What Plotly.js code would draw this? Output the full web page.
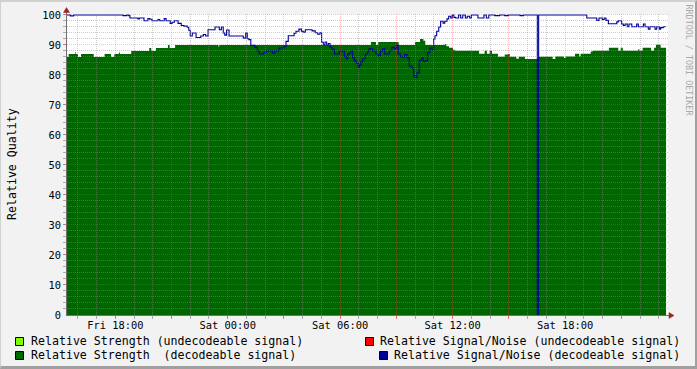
<!DOCTYPE html>
<html><head><meta charset="utf-8">
<script src="https://cdn.plot.ly/plotly-3.0.1.min.js"></script>
<style>
html,body{margin:0;padding:0;background:#f2f2f2;}
#wrap{position:relative;width:697px;height:369px;}
#chart{width:697px;height:369px;}
#frame{position:absolute;left:0;top:0;width:697px;height:369px;box-sizing:border-box;border-top:2px solid #d0d0d0;border-left:1px solid #d0d0d0;border-right:2px solid #a0a0a0;border-bottom:3px solid #a0a0a0;pointer-events:none;}
</style></head><body>
<div id="wrap"><div id="chart"></div><div id="frame"></div></div>
<script>
// time in hours since Fri 00:00
const strengthT = [15.41,15.51,15.87,15.90,16.01,16.17,16.85,17.43,17.77,17.95,
  18.20,18.25,18.85,19.81,19.92,20.17,20.81,20.90,21.19,23.50,
  23.55,31.64,31.91,32.03,33.12,33.99,34.26,34.44,34.54,35.58,
  35.66,35.81,36.02,36.11,37.41,37.71,37.83,37.98,38.10,38.42,
  38.78,38.96,39.05,39.40,39.53,39.86,40.59,41.34,41.48,41.94,
  42.03,42.53,42.76,42.83,43.37,43.47,44.34,44.84,44.97,45.08,
  45.91,45.96,46.14,46.59,46.75,46.85,47.10,47.39];
const strengthV = [86,87,87.7,87,86,87,86,87,86,87,
  87.5,87,88,89,88,89,90,89,90,89.5,
  90,91,90,91,90,91,92,91.4,90,90.3,
  89.6,89.1,88.4,88.1,87.1,88.1,87.1,88.1,87.1,86.1,
  86.8,87,86.1,85.4,86.1,85.3,86.1,85.3,86.2,85.7,
  86.2,87.1,86.2,87.1,87.8,88.1,89.1,88.1,89.1,88.1,
  88.7,88.1,89.1,88.1,89.1,90.1,89.1,89.1];

const snrT = [15.41,15.60,15.78,
  18.41,18.62,18.72,18.78,
  19.21,19.28,19.53,19.74,19.84,19.96,
  20.28,20.37,20.61,20.71,
  20.93,21.03,21.15,21.35,21.52,21.65,
  21.84,21.92,22.00,22.11,22.31,22.56,22.70,22.82,22.95,
  23.32,23.55,23.66,23.76,23.84,23.94,24.07,
  24.83,24.96,25.04,25.13,25.23,25.44,25.58,25.68,
  25.93,26.06,26.38,26.51,26.74,
  27.00,27.11,27.23,27.54,27.64,27.80,27.93,28.03,28.14,
  28.50,28.67,28.80,28.92,29.01,29.10,29.19,29.28,29.37,29.46,29.56,29.69,
  29.95,
  30.22,30.31,30.40,30.49,30.58,30.67,30.75,30.84,30.97,31.02,31.11,31.20,31.34,
  31.47,31.55,31.74,31.91,32.03,32.14,32.27,32.38,
  32.62,32.75,32.89,33.02,33.09,33.21,
  33.44,33.57,33.69,33.82,33.92,33.99,34.10,34.22,34.35,34.44,34.54,34.67,
  34.78,34.90,34.99,35.06,35.15,35.26,35.36,35.49,35.58,35.70,35.79,35.90,35.98,36.07,
  36.16,36.32,36.43,36.54,36.68,36.78,36.91,37.00,37.35,
  37.67,37.80,37.93,38.25,38.51,38.78,38.96,39.60,39.77,40.52,40.59,
  43.16,43.69,43.81,43.99,44.09,44.18,44.31,44.76,44.84,
  45.02,45.11,45.20,45.32,45.41,45.56,45.82,45.91,46.18,46.27,
  46.44,46.53,46.80,46.89,47.03,47.10,47.24,47.37];
const snrV = [100,99.7,100,
  99.8,100,99.8,99,
  98.7,99,98.1,98.8,98.6,98.1,
  98.5,98.1,98.8,98.1,
  97.2,97.6,98.1,97.2,96.5,96.3,
  95.9,94.9,93,94,92.5,93,93.5,93,95.1,
  96,95.1,96,94,93.3,95,93,
  92.3,94,92.1,91.8,89.9,89.2,88,87,
  87.5,88,87.3,88,89,
  89.6,91.2,93.1,93.9,94.6,95.3,94.6,94.3,95.1,
  94.7,94.1,93.6,94.1,90.9,90.1,91,90.1,90.5,89.3,88.6,87,
  88,
  86.2,85.4,87,87.3,88,85.7,84.8,84,82.5,83.3,84.4,85.4,87,
  88,88.7,88,87,86.4,88,88.7,87,
  88,89.2,88.8,90,87,86,
  86.8,85.7,82.9,82.3,79.8,79.2,80.7,84.9,85.7,84.5,84.8,87.5,
  89,88.4,92,93.1,94.6,96,97.9,97.3,97.9,98.7,99.6,99,100,99.2,
  99,100,99,100,99,99.6,99,100,99,
  100,99,100,99.8,100,99.8,100,99.8,100,0,100,
  99,98.2,99,98.5,99,98.2,97.1,97.7,98.1,
  97,96.5,97,96.1,97,96.1,97,96.1,97,96.1,
  95.3,96.1,95.3,96.1,95.3,95.8,96.1,96.1];

const xTickVals = [18, 24, 30, 36, 42];
const xTickText = ['Fri 18:00', 'Sat 00:00', 'Sat 06:00', 'Sat 12:00', 'Sat 18:00'];
const yTickVals = [0, 10, 20, 30, 40, 50, 60, 70, 80, 90, 100];
const legendLabels = ['Relative Strength (undecodeable signal)', 'Relative Signal/Noise (undecodeable signal)',
                      'Relative Strength  (decodeable signal)', 'Relative Signal/Noise (decodeable signal)'];
const legendColors = ['#80ff00', '#ff0000', '#006600', '#000099'];
const yTitle = 'Relative Quality';
const watermark = 'RRDTOOL / TOBI OETIKER';

const X0 = 15.423, X1 = 47.493, Y1 = 100.33;
const W = 697, H = 369;
const M = {l: 67, r: 29, t: 14, b: 54};
const PW = W - M.l - M.r, PH = H - M.t - M.b;
const px = x => (x - M.l) / PW;
const py = y => (H - M.b - y) / PH;
// pixel position of an axis value, snapped to the pixel centre for crisp 1px grid lines
const hx = h => Math.floor(M.l + (h - X0) / (X1 - X0) * PW) + 0.5;
const vy = v => Math.floor(H - M.b - v / Y1 * PH) + 0.5;
const mono = 'DejaVu Sans Mono';
const minorC = 'rgba(140,140,140,0.45)';
const majorC = 'rgba(255,70,70,0.35)';

const shapes = [];
// vertical grid every hour, major every 3 hours
for (let h = Math.ceil(X0); h <= X1; h++) {
  const major = h % 3 === 0;
  const x = hx(h);
  shapes.push({type: 'line', xref: 'paper', yref: 'paper', x0: px(x), x1: px(x), y0: py(315), y1: py(14),
    line: {color: major ? majorC : minorC, width: 1, dash: '1px,1px'}, layer: 'above'});
  shapes.push({type: 'line', xref: 'paper', yref: 'paper', x0: px(x), x1: px(x), y0: py(316), y1: py(319),
    line: {color: major ? '#e07070' : '#aaaaaa', width: 1}, layer: 'above'});
}
// horizontal grid every 2, major every 10
for (let v = 2; v <= 100; v += 2) {
  const major = v % 10 === 0;
  const y = vy(v);
  shapes.push({type: 'line', xref: 'paper', yref: 'paper', x0: px(67), x1: px(669), y0: py(y), y1: py(y),
    line: {color: major ? majorC : minorC, width: 1, dash: '1px,1px'}, layer: 'above'});
  shapes.push({type: 'line', xref: 'paper', yref: 'paper', x0: px(63), x1: px(66), y0: py(y), y1: py(y),
    line: {color: major ? '#e07070' : '#aaaaaa', width: 1}, layer: 'above'});
}
// axes
shapes.push({type: 'line', xref: 'paper', yref: 'paper', x0: px(66.5), x1: px(66.5), y0: py(315.5), y1: py(11),
  line: {color: '#707070', width: 1}, layer: 'above'});
shapes.push({type: 'line', xref: 'paper', yref: 'paper', x0: px(66), x1: px(670), y0: py(315.5), y1: py(315.5),
  line: {color: '#707070', width: 1}, layer: 'above'});
// arrow heads
shapes.push({type: 'path', xref: 'paper', yref: 'paper',
  path: `M ${px(63.5)} ${py(12.5)} L ${px(69.5)} ${py(12.5)} L ${px(66.5)} ${py(7.5)} Z`,
  fillcolor: '#a02020', line: {color: '#a02020', width: 0.5}, layer: 'above'});
shapes.push({type: 'path', xref: 'paper', yref: 'paper',
  path: `M ${px(669)} ${py(312.5)} L ${px(669)} ${py(318.5)} L ${px(674)} ${py(315.5)} Z`,
  fillcolor: '#a02020', line: {color: '#a02020', width: 0.5}, layer: 'above'});

const annotations = [];
// legend
const sqX = [15, 365, 15, 379];
const sqY = [337, 337, 351, 351];
legendLabels.forEach((lab, i) => {
  shapes.push({type: 'rect', xref: 'paper', yref: 'paper',
    x0: px(sqX[i] + 0.5), x1: px(sqX[i] + 8.5), y0: py(sqY[i] + 0.5), y1: py(sqY[i] + 8.5),
    fillcolor: legendColors[i], line: {color: '#000', width: 1}, layer: 'above'});
  const right = i % 2 === 1;
  annotations.push({xref: 'paper', yref: 'paper', x: right ? px(681.5) : px(28.5), y: py(sqY[i] + 4),
    xanchor: right ? 'right' : 'left', yanchor: 'middle', showarrow: false, text: lab,
    font: {family: mono, size: 11.6, color: '#000'}});
});
annotations.push({xref: 'paper', yref: 'paper', x: px(12), y: py(164), textangle: -90,
  xanchor: 'center', yanchor: 'middle', showarrow: false, text: yTitle,
  font: {family: mono, size: 11.6, color: '#000'}});
annotations.push({xref: 'paper', yref: 'paper', x: px(688.5), y: py(60), textangle: 90,
  xanchor: 'center', yanchor: 'middle', showarrow: false, text: watermark,
  font: {family: mono, size: 8.4, color: '#a8a8a8'}});

const data = [
  {x: strengthT, y: strengthV, type: 'scatter', mode: 'lines', fill: 'tozeroy', fillcolor: '#006600',
   line: {shape: 'hv', width: 0, color: '#006600'}, hoverinfo: 'skip'},
  {x: snrT, y: snrV, type: 'scatter', mode: 'lines',
   line: {shape: 'hv', width: 1.1, color: '#000099'}, hoverinfo: 'skip'}
];

const layout = {
  width: W, height: H, margin: M,
  paper_bgcolor: '#f2f2f2', plot_bgcolor: '#ffffff', showlegend: false,
  xaxis: {range: [X0, X1], tickmode: 'array', tickvals: xTickVals, ticktext: xTickText,
    showgrid: false, zeroline: false, showline: false, ticks: '',
    tickfont: {family: mono, size: 10.4, color: '#000'}, ticklabelstandoff: 3},
  yaxis: {range: [0, Y1], tickmode: 'array', tickvals: yTickVals,
    showgrid: false, zeroline: false, showline: false, ticks: '',
    tickfont: {family: mono, size: 10.4, color: '#000'}, ticklabelstandoff: 5},
  shapes: shapes, annotations: annotations
};
Plotly.newPlot('chart', data, layout, {staticPlot: true});
</script></body></html>
